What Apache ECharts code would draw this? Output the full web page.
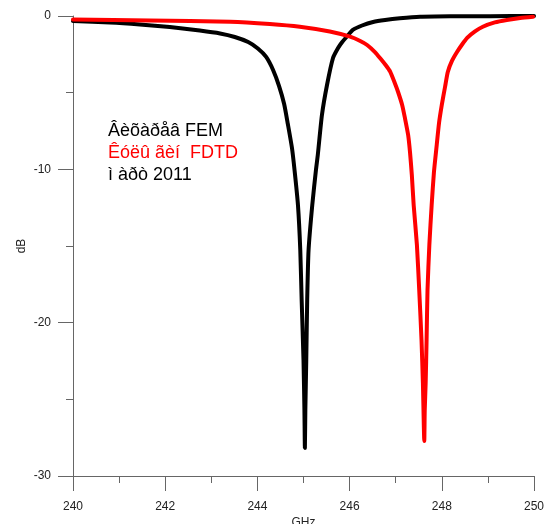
<!DOCTYPE html>
<html>
<head>
<meta charset="utf-8">
<script src="https://cdn.jsdelivr.net/npm/echarts@6/dist/echarts.min.js"></script>
<style>
html,body{margin:0;padding:0;background:#fff;overflow:hidden;}
#chart{width:548px;height:524px;}
</style>
</head>
<body>
<div id="chart"></div>
<script>
// Black curve (FEM) [GHz, dB]
var blackX = [240.00, 240.80, 241.45, 242.10, 242.75, 243.19, 243.51, 243.80, 244.01, 244.19, 244.34, 244.47, 244.58, 244.66, 244.75, 244.81, 244.88, 244.93, 244.96, 245.00, 245.02, 245.03, 245.04, 245.06, 245.08, 245.11, 245.19, 245.27, 245.31, 245.40, 245.51, 245.64, 245.75, 245.84, 245.97, 246.07, 246.27, 246.51, 246.77, 247.09, 247.53, 248.18, 249.05, 250.00];
var blackY = [-0.33, -0.42, -0.55, -0.72, -0.95, -1.14, -1.37, -1.70, -2.12, -2.67, -3.52, -4.57, -5.74, -7.04, -8.61, -10.17, -12.33, -15.26, -18.52, -22.43, -25.70, -28.17, -25.70, -22.43, -18.52, -15.26, -12.33, -10.04, -9.07, -6.46, -4.50, -2.74, -2.09, -1.70, -1.24, -0.91, -0.62, -0.39, -0.26, -0.15, -0.05, -0.02, -0.01, 0.00];
// Red curve (FDTD) [GHz, dB]
var redX = [240.00, 241.67, 243.41, 244.27, 244.92, 245.57, 246.01, 246.23, 246.38, 246.55, 246.66, 246.79, 246.88, 246.98, 247.05, 247.14, 247.20, 247.27, 247.31, 247.35, 247.39, 247.46, 247.51, 247.56, 247.59, 247.62, 247.63, 247.65, 247.67, 247.69, 247.73, 247.78, 247.83, 247.89, 247.94, 248.00, 248.07, 248.13, 248.22, 248.33, 248.44, 248.55, 248.72, 248.89, 249.15, 249.41, 249.70, 249.98];
var redY = [-0.23, -0.29, -0.37, -0.52, -0.70, -1.01, -1.35, -1.63, -1.89, -2.35, -2.74, -3.23, -3.63, -4.37, -4.94, -5.80, -6.65, -7.76, -8.87, -10.37, -12.33, -14.93, -17.87, -21.13, -23.93, -27.72, -25.70, -23.93, -21.13, -17.87, -14.93, -12.33, -10.17, -8.41, -6.98, -5.80, -4.63, -3.65, -2.93, -2.35, -1.86, -1.43, -1.01, -0.70, -0.42, -0.26, -0.13, -0.05];
var xTicks = {min: 240, max: 250, interval: 2};
var yTicks = {min: -30, max: 0, interval: 10};
var notes = ["Âèõàðåâ FEM", "Êóëû ãèí  FDTD", "ì àðò 2011"];

function pairs(xs, ys){ return xs.map(function(x,i){ return [x, ys[i]]; }); }

var chart = echarts.init(document.getElementById('chart'), null, {renderer:'canvas', width: 548, height: 524});
var axisCol = '#666';
var labCol = '#222';
var font = 'Liberation Sans, Arial, sans-serif';
chart.setOption({
  animation: false,
  backgroundColor: '#fff',
  grid: {left: 73, right: 14, top: 16, bottom: 48, containLabel: false, outerBoundsMode: 'none'},
  xAxis: {
    type: 'value', min: xTicks.min, max: xTicks.max, interval: xTicks.interval,
    name: 'GHz', nameLocation: 'middle', nameGap: 41, nameMoveOverlap: false,
    nameTextStyle: {color: labCol, fontSize: 12, fontFamily: font},
    axisLine: {show: true, onZero: false, lineStyle: {color: axisCol, width: 1}},
    axisTick: {show: true, inside: false, length: 15, lineStyle: {color: axisCol}},
    minorTick: {show: true, splitNumber: 2, length: 7, lineStyle: {color: axisCol}},
    axisLabel: {color: labCol, fontSize: 12, fontFamily: font, margin: 25},
    splitLine: {show: false}
  },
  yAxis: {
    type: 'value', min: yTicks.min, max: yTicks.max, interval: yTicks.interval,
    name: 'dB', nameLocation: 'middle', nameGap: 45, nameRotate: 90, nameMoveOverlap: false,
    nameTextStyle: {color: labCol, fontSize: 12, fontFamily: font},
    axisLine: {show: true, onZero: false, lineStyle: {color: axisCol, width: 1}},
    axisTick: {show: true, inside: false, length: 15, lineStyle: {color: axisCol}},
    minorTick: {show: true, splitNumber: 2, length: 7, lineStyle: {color: axisCol}},
    axisLabel: {color: labCol, fontSize: 12, fontFamily: font, margin: 22},
    splitLine: {show: false}
  },
  series: [
    {type: 'line', data: pairs(blackX, blackY), showSymbol: false, smooth: 0.2,
     lineStyle: {color: '#000', width: 4, join: 'round', cap: 'round'}, z: 2},
    {type: 'line', data: pairs(redX, redY), showSymbol: false, smooth: 0.2,
     lineStyle: {color: '#ff0000', width: 4, join: 'round', cap: 'round'}, z: 3}
  ],
  graphic: [
    {type: 'text', x: 108, y: 131, style: {text: notes[0], fill: '#000', font: '18px ' + font, verticalAlign: 'middle'}},
    {type: 'text', x: 108, y: 153, style: {text: notes[1], fill: '#ff0000', font: '18px ' + font, verticalAlign: 'middle'}},
    {type: 'text', x: 108, y: 175, style: {text: notes[2], fill: '#000', font: '18px ' + font, verticalAlign: 'middle'}}
  ]
});
</script>
</body>
</html>
